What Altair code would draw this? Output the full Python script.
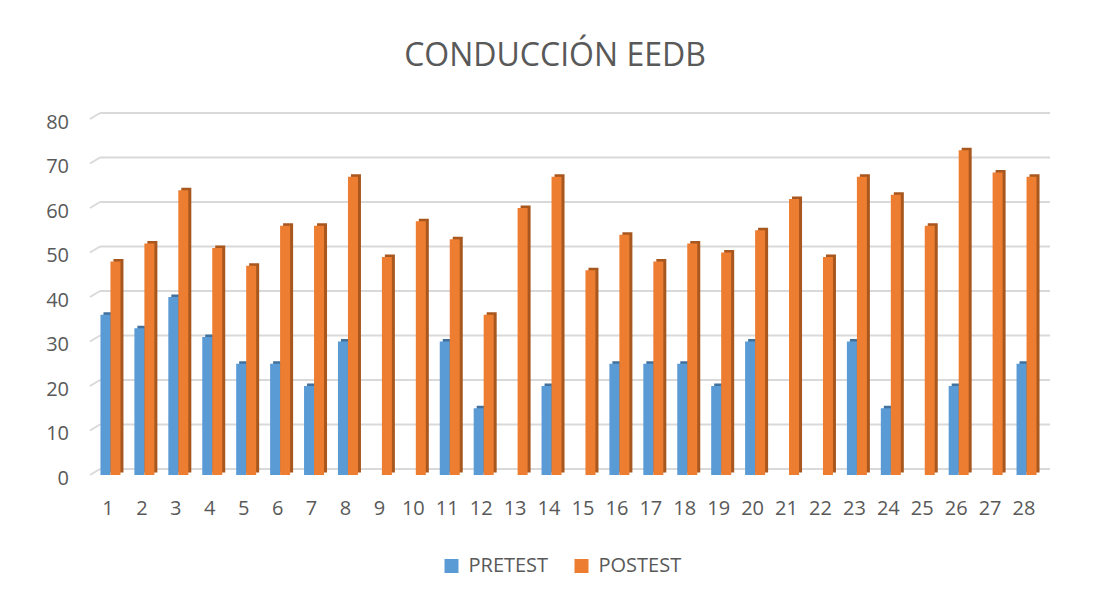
import altair as alt
import pandas as pd

categories = [str(i) for i in range(1, 29)]
pretest = [36, 33, 40, 31, 25, 25, 20, 30, 0, 0, 30, 15, 0, 20, 0, 25, 25, 25, 20, 30, 0, 0, 30, 15, 0, 20, 0, 25]
postest = [48, 52, 64, 51, 47, 56, 56, 67, 49, 57, 53, 36, 60, 67, 46, 54, 48, 52, 50, 55, 62, 49, 67, 63, 56, 73, 68, 67]
y_ticks = [0, 10, 20, 30, 40, 50, 60, 70, 80]
series = ["PRETEST", "POSTEST"]
colors = ["#5B9BD5", "#ED7D31"]
dark_colors = ["#41719C", "#A8571F"]

rows = []
for c, a, b in zip(categories, pretest, postest):
    rows.append({"cat": c, "series": "PRETEST", "value": a})
    rows.append({"cat": c, "series": "POSTEST", "value": b})
df = pd.DataFrame(rows)
grid_df = pd.DataFrame({"g": y_ticks})

FONT = "Open Sans"
TXT = "#595959"
GRID = "#D9D9D9"
W, H = 950, 356
BAR = 10
DEPTH_X, DEPTH_Y = 3, 2.5

x_enc = alt.X("cat:N", sort=categories,
              scale=alt.Scale(paddingInner=0.38, paddingOuter=0.19),
              axis=alt.Axis(title=None, labelAngle=0, domain=False, ticks=False, grid=False,
                            labelFontSize=20, labelColor=TXT, labelFont=FONT,
                            labelPadding=23, labelOffset=-2.5))
y_scale = alt.Scale(domain=[0, 80], nice=False)
y_enc = alt.Y("value:Q", scale=y_scale,
              axis=alt.Axis(title=None, values=y_ticks, domain=False, grid=False,
                            ticks=False, labelFontSize=20, labelColor=TXT,
                            labelFont=FONT, labelPadding=25, labelOffset=3))

# 3D-style gridlines (back wall + slanted floor edge)
grid_base = alt.Chart(grid_df).transform_calculate(g2="datum.g + 6 * 80 / 356")
grid_h = grid_base.mark_rule(color=GRID, strokeWidth=2).encode(
    y=alt.Y("g2:Q", scale=y_scale), x=alt.value(6.5), x2=alt.value(W + 6.5))
grid_s = grid_base.mark_rule(color=GRID, strokeWidth=2).encode(
    y=alt.Y("g:Q", scale=y_scale), y2="g2:Q", x=alt.value(-3.5), x2=alt.value(6.5))

layers = [grid_h, grid_s]
for i, s in enumerate(series):
    off = -BAR / 2 if i == 0 else BAR / 2
    base = alt.Chart(df).transform_filter(alt.datum.series == s)
    shadow = base.mark_bar(width=BAR, xOffset=off + DEPTH_X, yOffset=-DEPTH_Y,
                           color=dark_colors[i]).encode(x=x_enc, y=y_enc)
    front = base.mark_bar(width=BAR, xOffset=off).encode(
        x=x_enc, y=y_enc,
        color=alt.Color("series:N", sort=series,
                        scale=alt.Scale(domain=series, range=colors),
                        legend=alt.Legend(title=None, orient="none", direction="horizontal",
                                          legendX=348, legendY=437, symbolType="square",
                                          symbolSize=196, symbolStrokeWidth=0,
                                          labelFontSize=20, labelColor=TXT, labelFont=FONT,
                                          labelLimit=0, columnPadding=23, labelOffset=7)))
    layers += [shadow, front]

chart = alt.layer(*layers).properties(
    width=W, height=H,
    autosize=alt.AutoSizeParams(type="none"),
    padding={"left": 85.5, "top": 111, "right": 40, "bottom": 100},
    title=alt.TitleParams("CONDUCCIÓN EEDB", fontSize=32, font=FONT, color=TXT,
                          fontWeight="normal", anchor="middle", baseline="alphabetic",
                          offset=14, dx=-13.5),
).configure(background="white").configure_view(strokeWidth=0, stroke="transparent")

chart.save("out.html", embed_options={"renderer": "svg", "actions": False})
